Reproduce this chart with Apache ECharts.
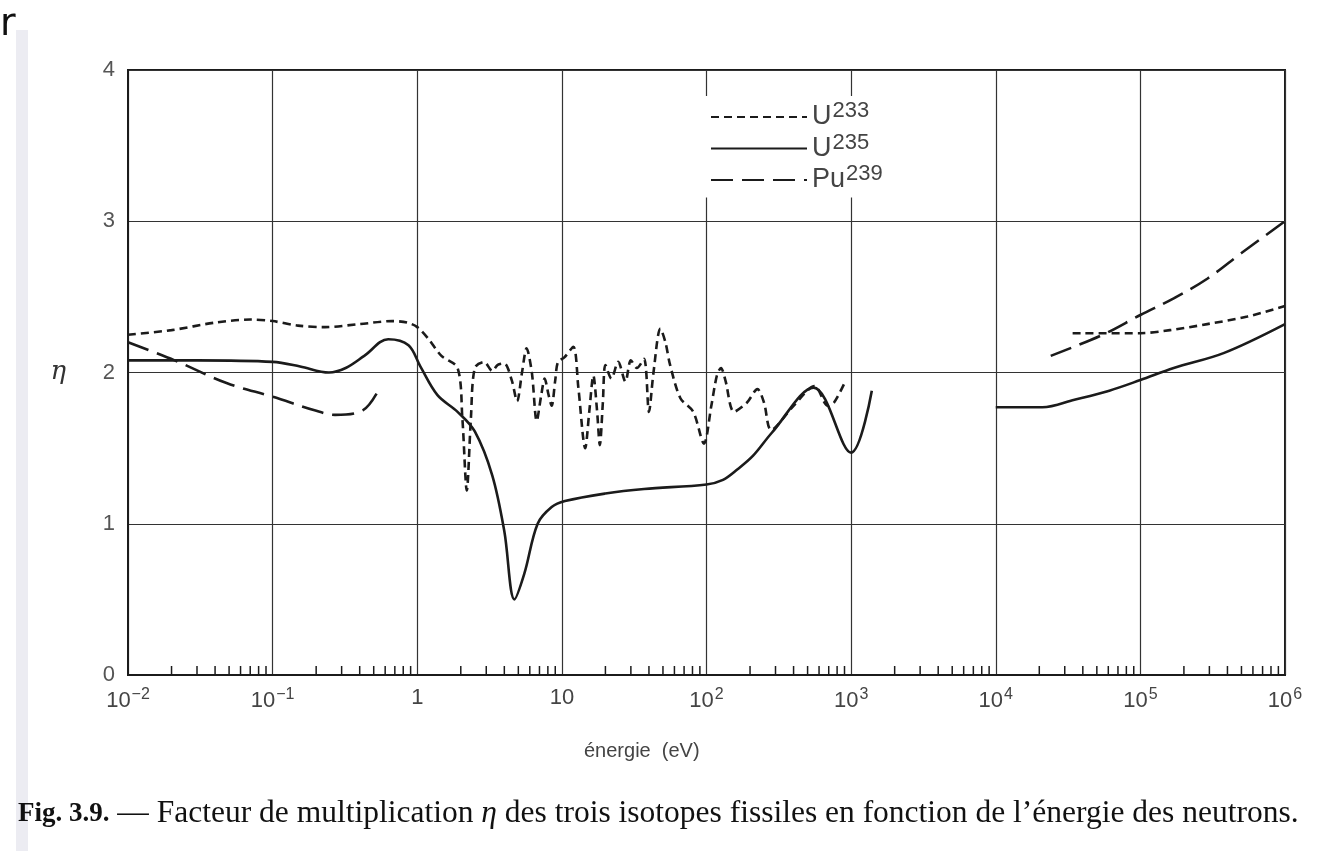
<!DOCTYPE html>
<html>
<head>
<meta charset="utf-8">
<script src="https://cdn.jsdelivr.net/npm/echarts@6/dist/echarts.min.js"></script>
<style>
  html, body { margin: 0; padding: 0; background: #fff; }
  #eta { width: 1330px; height: 851px; }
</style>
</head>
<body>
<div id="eta"></div>
<script>
// energy (eV) / eta pairs; each isotope has a low and a high energy branch
const u233Low = [
  [0.01, 2.25], [0.02, 2.28], [0.04, 2.33], [0.07, 2.35], [0.1, 2.34], [0.15, 2.31], [0.23, 2.30],
  [0.4, 2.32], [0.67, 2.34], [0.85, 2.33], [1.0, 2.30], [1.2, 2.22], [1.47, 2.11], [1.9, 2.03],
  [2.05, 1.7], [2.2, 1.22], [2.35, 1.7], [2.5, 2.03], [2.9, 2.07], [3.3, 2.01], [3.6, 2.05],
  [4.0, 2.06], [4.5, 1.95], [4.9, 1.81], [5.3, 2.0], [5.7, 2.16], [6.2, 2.0], [6.7, 1.68],
  [7.2, 1.85], [7.6, 1.96], [8.1, 1.85], [8.5, 1.78], [9.0, 1.95], [9.4, 2.07], [10.4, 2.10],
  [12, 2.17], [13, 1.9], [14.5, 1.5], [15.5, 1.75], [16.5, 1.98], [17.5, 1.75], [18.3, 1.52],
  [19.2, 1.8], [20, 2.05], [22, 1.96], [24.5, 2.07], [27.5, 1.94], [30, 2.08], [33, 2.03],
  [37, 2.09], [40, 1.74], [43, 2.0], [48, 2.29], [52, 2.2], [56, 2.05], [66, 1.83], [81, 1.74],
  [96, 1.53], [108, 1.78], [118, 1.98], [126, 2.03], [135, 1.95], [155, 1.74], [190, 1.8],
  [225, 1.89], [250, 1.8], [280, 1.62], [400, 1.78], [560, 1.91], [690, 1.78], [760, 1.8], [900, 1.93]
];
const u233High = [[34000, 2.26], [100000, 2.26], [160000, 2.28], [290000, 2.32], [550000, 2.37], [1000000, 2.44]];

const u235Low = [
  [0.01, 2.08], [0.03, 2.08], [0.1, 2.07], [0.155, 2.04], [0.245, 2.0], [0.32, 2.03], [0.43, 2.11],
  [0.63, 2.22], [0.87, 2.18], [1.05, 2.04], [1.38, 1.85], [1.9, 1.74], [2.5, 1.61], [3.3, 1.32],
  [4.0, 0.95], [4.7, 0.5], [5.5, 0.67], [6.8, 1.0], [8.5, 1.11], [10.5, 1.15], [20, 1.2], [37, 1.23],
  [100, 1.26], [130, 1.29], [164, 1.36], [210, 1.45], [282, 1.6], [550, 1.9], [1000, 1.47], [1390, 1.88]
];
const u235High = [
  [10000, 1.77], [21000, 1.77], [35000, 1.82], [61000, 1.88], [100000, 1.95], [170000, 2.03],
  [380000, 2.13], [1000000, 2.32]
];

const pu239Low = [
  [0.01, 2.2], [0.021, 2.08], [0.048, 1.93], [0.1, 1.84], [0.195, 1.75], [0.27, 1.72], [0.42, 1.75], [0.53, 1.87]
];
const pu239High = [
  [24000, 2.11], [55000, 2.25], [100000, 2.38], [170000, 2.49], [290000, 2.62], [500000, 2.79], [1000000, 3.0]
];

const decades = [-2, -1, 0, 1, 2, 3, 4, 5];
const minorSteps = [2, 3, 4, 5, 6, 7, 8, 9];
const yTicks = [0, 1, 2, 3, 4];

const minorTicks = [];
decades.forEach(d => minorSteps.forEach(k => minorTicks.push([k * Math.pow(10, d), 0])));

// join two branches with an empty point so the line breaks
const joined = (a, b) => a.concat([[Math.sqrt(a[a.length - 1][0] * b[0][0]), null]], b);

const chart = echarts.init(document.getElementById('eta'));

const ink = '#1b1b1b';
const lineBase = { color: ink, width: 2.6 };

const option = {
  animation: false,
  backgroundColor: '#fff',
  grid: { left: 128, right: 45, top: 70, bottom: 176, show: true, borderColor: ink, borderWidth: 2 },
  legend: {
    data: ['U233', 'U235', 'Pu239'],
    orient: 'vertical',
    left: 704,
    top: 96,
    padding: [4, 8, 4, 6],
    backgroundColor: '#fff',
    itemWidth: 96,
    itemHeight: 20,
    itemGap: 1,
    itemStyle: { opacity: 0 },
    formatter: function (name) {
      const m = name.match(/^([A-Za-z]+)(\d+)$/);
      return '{b|' + m[1] + '}{s|' + m[2] + '}';
    },
    textStyle: {
      rich: {
        b: { fontSize: 27, color: '#444', fontFamily: 'Liberation Sans' },
        s: { fontSize: 22, color: '#444', fontFamily: 'Liberation Sans', padding: [0, 0, 12, 1] }
      }
    }
  },
  xAxis: {
    type: 'log',
    logBase: 10,
    min: 0.01,
    max: 1000000,
    axisLine: { lineStyle: { color: ink, width: 2 } },
    axisTick: { show: false },
    splitLine: { show: true, lineStyle: { color: '#333', width: 1.2 } },
    axisLabel: {
      margin: 12,
      formatter: function (v) {
        const e = Math.round(Math.log10(v));
        if (e === 0) return '{b|1}';
        if (e === 1) return '{b|10}';
        return '{b|10}{s|' + (e < 0 ? '\u2212' + (-e) : e) + '}';
      },
      rich: {
        b: { fontSize: 22, color: '#444', fontFamily: 'Liberation Sans' },
        s: { fontSize: 16, color: '#444', fontFamily: 'Liberation Sans', padding: [0, 0, 12, 1] }
      }
    }
  },
  yAxis: {
    type: 'value',
    min: 0,
    max: 4,
    interval: 1,
    name: '\u03b7',
    nameLocation: 'middle',
    nameRotate: 0,
    nameGap: 62,
    nameTextStyle: { fontSize: 26, color: '#333', fontStyle: 'italic', fontFamily: 'DejaVu Serif' },
    axisLine: { show: true, lineStyle: { color: ink, width: 2 } },
    axisTick: { show: false },
    splitLine: { show: true, lineStyle: { color: '#333', width: 1.2 } },
    axisLabel: {
      margin: 13,
      fontSize: 22,
      color: '#555',
      fontFamily: 'Liberation Sans',
      formatter: v => yTicks.indexOf(v) >= 0 ? String(v) : ''
    }
  },
  series: [
    {
      name: 'U233', type: 'line', smooth: 0.3, symbol: 'none', connectNulls: false,
      lineStyle: Object.assign({ type: [8, 5] }, lineBase), itemStyle: { color: ink },
      data: joined(u233Low, u233High), z: 3
    },
    {
      name: 'U235', type: 'line', smooth: 0.35, symbol: 'none', connectNulls: false,
      lineStyle: Object.assign({ type: 'solid' }, lineBase), itemStyle: { color: ink },
      data: joined(u235Low, u235High), z: 4
    },
    {
      name: 'Pu239', type: 'line', smooth: 0.35, symbol: 'none', connectNulls: false,
      lineStyle: Object.assign({ type: [22, 9] }, lineBase), itemStyle: { color: ink },
      data: joined(pu239Low, pu239High), z: 3
    },
    {
      // minor ticks of the log axis, standing up from the bottom edge
      type: 'custom', silent: true, z: 5,
      data: minorTicks,
      renderItem: function (params, api) {
        const p = api.coord([api.value(0), 0]);
        return {
          type: 'line',
          shape: { x1: p[0], y1: p[1], x2: p[0], y2: p[1] - 9 },
          style: { stroke: ink, lineWidth: 1.5 }
        };
      }
    }
  ],
  graphic: [
    { type: 'rect', left: 16, top: 30, shape: { width: 12, height: 821 }, style: { fill: '#ececf2' }, silent: true },
    { type: 'text', left: 0, top: 6, style: { text: 'r', fontSize: 38, fill: '#111', fontFamily: 'DejaVu Sans' } },
    {
      type: 'text', left: 584, top: 741,
      style: { text: '\u00e9nergie  (eV)', fontSize: 20, fill: '#444', fontFamily: 'Liberation Sans' }
    },
    {
      type: 'text', left: 18, top: 798,
      style: {
        text: '{f|Fig. 3.9.}{t| \u2014 Facteur de multiplication }{i|\u03b7}{t| des trois isotopes fissiles en fonction de l\u2019\u00e9nergie des neutrons.}',
        rich: {
          f: { fontSize: 27, fontWeight: 'bold', fill: '#111', fontFamily: 'Liberation Serif' },
          t: { fontSize: 31.5, fill: '#111', fontFamily: 'Liberation Serif' },
          i: { fontSize: 31.5, fontStyle: 'italic', fill: '#111', fontFamily: 'Liberation Serif' }
        }
      }
    }
  ]
};

chart.setOption(option);
</script>
</body>
</html>
